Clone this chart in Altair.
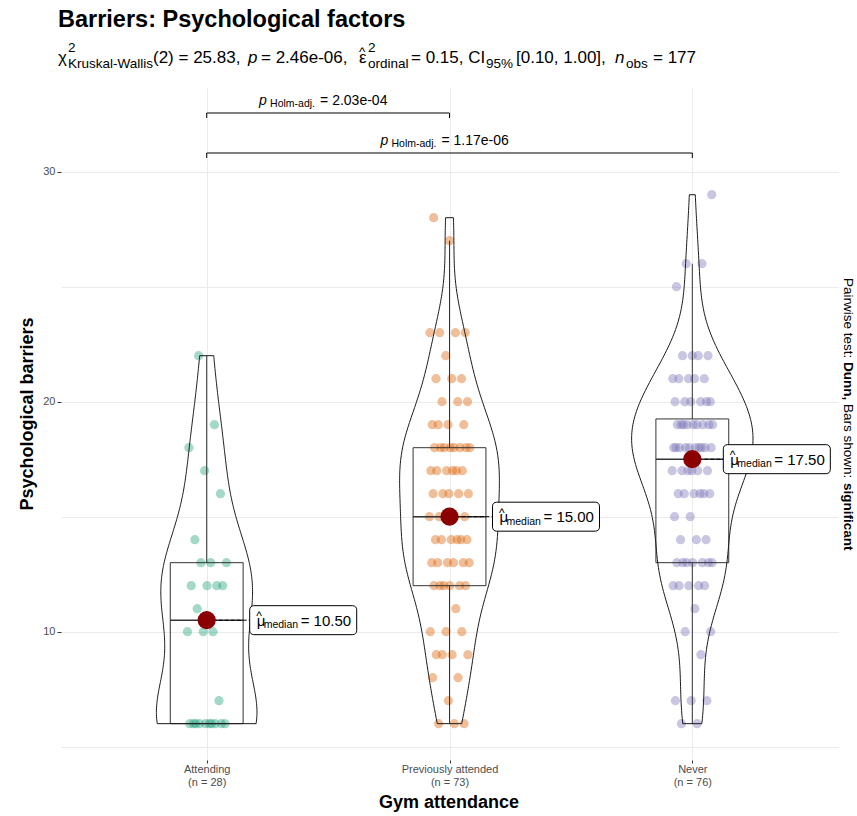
import altair as alt
import numpy as np
import pandas as pd

FONT = "Liberation Sans"

# ---- data -------------------------------------------------------------
groups = ["Attending", "Previously attended", "Never"]
palette = ["#1B9E77", "#D95F02", "#7570B3"]

attending = [6, 6, 6, 6, 6, 6, 6, 6, 6, 6, 7, 10, 10, 10, 11, 12, 12, 12, 12,
             13, 13, 13, 14, 16, 17, 18, 19, 22]
previously_attended = [6, 6, 6, 7, 8, 8, 9, 9, 9, 9, 10, 10, 10, 11,
                       12, 12, 12, 12, 12, 12, 13, 13, 13, 13, 13, 13,
                       14, 14, 14, 14, 14, 14, 15, 15, 15, 15, 15,
                       16, 16, 16, 16, 16, 17, 17, 17, 17, 17, 17,
                       18, 18, 18, 18, 18, 18, 18, 18, 19, 19, 19, 19,
                       20, 20, 20, 21, 21, 21, 22, 23, 23, 23, 23, 27, 28]
never = [6, 6, 7, 7, 7, 9, 10, 10, 11, 12, 12, 12, 12, 12,
         13, 13, 13, 13, 13, 13, 13, 14, 14, 14, 15, 15,
         16, 16, 16, 16, 16, 16, 17, 17, 17, 17, 17, 17,
         18, 18, 18, 18, 18, 18, 18, 18, 18, 18,
         19, 19, 19, 19, 19, 19, 19, 19, 19,
         20, 20, 20, 20, 20, 20, 21, 21, 21, 21, 21, 22, 22, 22, 22, 25, 26, 26, 29]
series = [attending, previously_attended, never]

# Kruskal-Wallis summary and Dunn (Holm) pairwise results
kw_df = 2
kw_stat = "25.83"
kw_p = "2.46e-06"
eps_ordinal = "0.15"
eps_ci = ["0.10", "1.00"]
pair_from = ["Attending", "Attending"]
pair_to = ["Previously attended", "Never"]
pair_p = ["2.03e-04", "1.17e-06"]

# ---- layout -----------------------------------------------------------
W, H = 777, 672
PAD_L, PAD_T = 61, 88
XDOM = [0.4, 3.6]
YDOM = [4.42, 33.64]
PXU = W / (XDOM[1] - XDOM[0])
PYU = H / (YDOM[1] - YDOM[0])
BOX_HALF = 0.15
VIOLIN_HALF = 0.25
LBL_GAP = [43, 43, 31]        # px between median point and its label
LBL_W, LBL_H = 107, 29
BRACKET_PX = [113, 153]       # page y of the comparison brackets
TICK_PX = 5


def px(x):
    return x - PAD_L


def py(y):
    return y - PAD_T


rows = []
for gi, (g, vals) in enumerate(zip(groups, series)):
    for i, v in enumerate(vals):
        rows.append({"group": g, "pos": gi + 1, "idx": i, "value": v})
df = pd.DataFrame(rows)
n_obs = len(df)


def nrd0(v):
    v = np.asarray(v, float)
    sd = v.std(ddof=1)
    q75, q25 = np.percentile(v, [75, 25])
    lo = min(sd, (q75 - q25) / 1.34)
    if lo <= 0:
        lo = sd
    return 0.9 * lo * len(v) ** -0.2


bws = [nrd0(v) for v in series]


def kde_peak(v, bw):
    v = np.asarray(v, float)
    grid = np.linspace(v.min(), v.max(), 512)
    z = (grid[:, None] - v[None, :]) / bw
    d = np.exp(-0.5 * z ** 2).sum(axis=1) / (len(v) * bw * np.sqrt(2 * np.pi))
    return d.max()


dens_max = max(kde_peak(v, b) for v, b in zip(series, bws))
K = VIOLIN_HALF / dens_max

# ---- scales / axes ----------------------------------------------------
xscale = alt.Scale(domain=XDOM, nice=False, zero=False)
yscale = alt.Scale(domain=YDOM, nice=False, zero=False)

counts = [len(v) for v in series]
lab_expr = (
    f"datum.value == 1 ? ['{groups[0]}', '(n = {counts[0]})'] : "
    f"datum.value == 2 ? ['{groups[1]}', '(n = {counts[1]})'] : "
    f"['{groups[2]}', '(n = {counts[2]})']"
)
xaxis = alt.Axis(values=[1, 2, 3], labelExpr=lab_expr, title=None, domain=False,
                 grid=True, gridColor="#EBEBEB", gridWidth=1,
                 tickSize=3, tickColor="#333333", labelColor="#4D4D4D",
                 labelFontSize=11, labelLineHeight=13, labelPadding=0,
                 labelFont=FONT)
yaxis = alt.Axis(values=[5, 10, 15, 20, 25, 30],
                 labelExpr="datum.value % 10 == 0 ? datum.label : ''",
                 title=None, domain=False, grid=True, gridColor="#EBEBEB",
                 gridWidth=1, tickSize=4, tickColor="#333333",
                 tickOpacity={"condition": {"test": "datum.value % 10 == 0", "value": 1}, "value": 0},
                 labelColor="#4D4D4D", labelFontSize=11, labelPadding=2,
                 labelFont=FONT)


def X(field):
    return alt.X(field, type="quantitative", scale=xscale, axis=xaxis)


def Y(field):
    return alt.Y(field, type="quantitative", scale=yscale, axis=yaxis)


# ---- jittered observations -------------------------------------------
points = alt.Chart(df).transform_calculate(
    jx="datum.pos + (((datum.idx + 1) * 0.6180339887) % 1 - 0.5) * 0.17"
).mark_circle(size=85, opacity=0.4).encode(
    x=X("jx"), y=Y("value"),
    color=alt.Color("group:N", scale=alt.Scale(domain=groups, range=palette), legend=None),
)

# ---- violins (one density per group, trimmed to the group's range) ----
violins = []
for gi, (g, vals, bw) in enumerate(zip(groups, series, bws)):
    pos = gi + 1
    violins.append(
        alt.Chart(df).transform_filter(alt.datum.group == g)
        .transform_density("value", bandwidth=bw, extent=[min(vals), max(vals)],
                           steps=200, as_=["value", "density"])
        .transform_calculate(left=f"{pos} - datum.density * {K}",
                             right=f"{pos} + datum.density * {K}")
        .mark_area(orient="horizontal", fill="white", fillOpacity=0,
                   stroke="#1A1A1A", strokeWidth=1)
        .encode(y=Y("value"), x=alt.X("left:Q", scale=xscale, axis=xaxis, stack=None),
                x2="right:Q")
    )

# ---- box plot statistics ---------------------------------------------
gaps = ",".join(str(g) for g in LBL_GAP)
stats = (
    alt.Chart(df)
    .transform_joinaggregate(q1="q1(value)", q3="q3(value)", med="median(value)",
                             groupby=["group", "pos"])
    .transform_calculate(lo="datum.q1 - 1.5 * (datum.q3 - datum.q1)",
                         hi="datum.q3 + 1.5 * (datum.q3 - datum.q1)")
    .transform_filter("datum.value >= datum.lo && datum.value <= datum.hi")
    .transform_aggregate(wlo="min(value)", whi="max(value)",
                         groupby=["group", "pos", "q1", "q3", "med"])
    .transform_calculate(
        bl=f"datum.pos - {BOX_HALF}",
        br=f"datum.pos + {BOX_HALF}",
        L=f"datum.pos + [{gaps}][datum.pos - 1] / {PXU}",
        R=f"datum.pos + ([{gaps}][datum.pos - 1] + {LBL_W}) / {PXU}",
        ylo=f"datum.med - {LBL_H / 2 / PYU}",
        yhi=f"datum.med + {LBL_H / 2 / PYU}",
        mtxt="'= ' + format(datum.med, '.2f')",
    )
)

box = stats.mark_rect(fill="white", fillOpacity=0, stroke="#333333", strokeWidth=1).encode(
    x=X("bl"), x2="br", y=Y("q1"), y2="q3")
whisk_hi = stats.mark_rule(color="#333333", strokeWidth=1).encode(x=X("pos"), y=Y("q3"), y2="whi")
whisk_lo = stats.mark_rule(color="#333333", strokeWidth=1).encode(x=X("pos"), y=Y("wlo"), y2="q1")
med_line = stats.mark_rule(color="#333333", strokeWidth=1.5).encode(x=X("bl"), x2="br", y=Y("med"))
connector = stats.mark_rule(color="black", strokeWidth=1, strokeDash=[4, 2]).encode(
    x=X("pos"), x2="L", y=Y("med"))
med_dot = stats.mark_circle(size=330, color="#8B0000", opacity=1).encode(x=X("pos"), y=Y("med"))
lbl_box = stats.mark_rect(fill="white", stroke="black", strokeWidth=1, cornerRadius=4).encode(
    x=X("L"), x2="R", y=Y("ylo"), y2="yhi")
lbl_mu = stats.mark_text(align="left", baseline="alphabetic", fontSize=15, dx=7, dy=5.5,
                         font=FONT).encode(x=X("L"), y=Y("med"), text=alt.value("μ"))
lbl_hat = stats.mark_text(align="left", baseline="alphabetic", fontSize=12, dx=6.5, dy=0,
                          font=FONT).encode(x=X("L"), y=Y("med"), text=alt.value("^"))
lbl_sub = stats.mark_text(align="left", baseline="alphabetic", fontSize=10.5, dx=14, dy=8,
                          font=FONT).encode(x=X("L"), y=Y("med"), text=alt.value("median"))
lbl_val = stats.mark_text(align="left", baseline="alphabetic", fontSize=15, dx=51, dy=5.5,
                          font=FONT).encode(x=X("L"), y=Y("med"), text="mtxt:N")

# ---- pairwise comparison brackets -------------------------------------
bdf = pd.DataFrame({
    "x1": [groups.index(a) + 1 for a in pair_from],
    "x2": [groups.index(b) + 1 for b in pair_to],
    "yb": [YDOM[1] - (b - PAD_T) / PYU for b in BRACKET_PX],
    "ptxt": ["= " + p for p in pair_p],
})
brk = alt.Chart(bdf).transform_calculate(
    yt=f"datum.yb - {TICK_PX / PYU}", xm="(datum.x1 + datum.x2) / 2")
b_h = brk.mark_rule(color="black", strokeWidth=1).encode(x=X("x1"), x2="x2", y=Y("yb"))
b_l = brk.mark_rule(color="black", strokeWidth=1).encode(x=X("x1"), y=Y("yb"), y2="yt")
b_r = brk.mark_rule(color="black", strokeWidth=1).encode(x=X("x2"), y=Y("yb"), y2="yt")
b_p = brk.mark_text(align="left", fontSize=14, fontStyle="italic", dx=-69, dy=-12,
                    font=FONT).encode(x=X("xm"), y=Y("yb"), text=alt.value("p"))
b_s = brk.mark_text(align="left", fontSize=10.5, dx=-58, dy=-9,
                    font=FONT).encode(x=X("xm"), y=Y("yb"), text=alt.value("Holm-adj."))
b_v = brk.mark_text(align="left", fontSize=14, dx=-8, dy=-12,
                    font=FONT).encode(x=X("xm"), y=Y("yb"), text="ptxt:N")

# ---- free text: title, subtitle, axis titles, caption -----------------
one = pd.DataFrame({"k": [0]})


def txt(text, x, y, size, weight="normal", style="normal", angle=0,
        align="left", baseline="alphabetic", color="black"):
    return alt.Chart(one).mark_text(
        align=align, baseline=baseline, fontSize=size, fontWeight=weight,
        fontStyle=style, angle=angle, color=color, font=FONT,
    ).encode(x=alt.value(px(x)), y=alt.value(py(y)), text=alt.value(text))


MS, SS = 17, 13.5           # main and script font sizes of the subtitle
MB, SB, UB = 63, 68, 52     # main, subscript and superscript baselines
CS = 13.5                   # caption font size
texts = [
    txt("Barriers: Psychological factors", 58, 27, 23.5, weight="bold"),
    txt("χ", 58, MB, MS),
    txt("2", 68, UB, SS),
    txt("Kruskal-Wallis", 68, SB, SS),
    txt(f"({kw_df}) = {kw_stat},", 153, MB, MS),
    txt("p", 248, MB, MS, style="italic"),
    txt(f"= {kw_p},", 261, MB, MS),
    txt("ε", 359, MB, MS),
    txt("^", 359, 56, SS),
    txt("2", 368, UB, SS),
    txt("ordinal", 368, SB, SS),
    txt(f"= {eps_ordinal}, CI", 411, MB, MS),
    txt("95%", 486, SB, SS),
    txt(f"[{eps_ci[0]}, {eps_ci[1]}],", 516, MB, MS),
    txt("n", 615, MB, MS, style="italic"),
    txt("obs", 626, SB, SS),
    txt(f"= {n_obs}", 653, MB, MS),
    txt("Psychological barriers", 28, 414, 18, weight="bold", angle=270,
        align="center", baseline="middle"),
    txt("Gym attendance", 449, 803, 18, weight="bold", align="center", baseline="middle"),
    txt("Pairwise test:", 848, 278, CS, angle=90, baseline="middle"),
    txt("Dunn,", 848, 362, CS, weight="bold", angle=90, baseline="middle"),
    txt("Bars shown:", 848, 404, CS, angle=90, baseline="middle"),
    txt("significant", 848, 483, CS, weight="bold", angle=90, baseline="middle"),
]

chart = alt.layer(
    points, box, whisk_hi, whisk_lo, med_line, *violins,
    connector, med_dot, lbl_box, lbl_mu, lbl_hat, lbl_sub, lbl_val,
    b_h, b_l, b_r, b_p, b_s, b_v, *texts,
).properties(
    width=W, height=H,
    padding={"left": PAD_L, "top": PAD_T, "right": 857 - PAD_L - W, "bottom": 816 - PAD_T - H},
    autosize=alt.AutoSizeParams(type="none"),
    background="white",
).configure(font=FONT).configure_view(stroke=None)

chart.save("out.html", embed_options={"renderer": "svg", "actions": False})
